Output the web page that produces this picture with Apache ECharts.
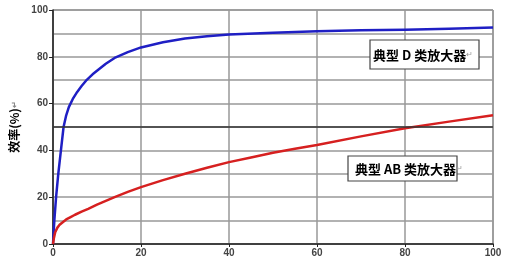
<!DOCTYPE html>
<html><head><meta charset="utf-8">
<script src="https://cdn.jsdelivr.net/npm/echarts@6/dist/echarts.min.js"></script>
<style>html,body{margin:0;padding:0;background:#fff}#c{width:508px;height:261px}</style>
</head><body><div id="c"></div>
<script>
// Output power (% of max) vs efficiency (%)
const classD = [[0,0],[0.3,10],[0.7,20],[1.2,30],[1.8,40],[2.4,50],[3,55],[3.6,58.5],[4.5,62],[5.5,65],[6.5,67.5],[7.5,69.8],[9,72.5],[10,74],[12,77],[14,79.5],[17,82],[20,84],[25,86.2],[30,87.8],[35,88.8],[40,89.5],[50,90.3],[60,90.9],[70,91.3],[80,91.6],[90,92],[100,92.5]];
const classAB = [[0,0],[0.2,2.5],[0.5,5],[1,7],[1.5,8.2],[2,9],[3,10.5],[4,11.5],[5,12.5],[6.5,13.8],[8,15],[10,16.8],[12,18.4],[14,20],[17,22.3],[20,24.3],[25,27.3],[30,30],[35,32.6],[40,35],[45,37],[50,39],[55,40.7],[60,42.3],[70,46],[80,49.5],[90,52.3],[100,55]];
const xTicks = [0,20,40,60,80,100];
const yTicks = [0,20,40,60,80,100];
const yName = '效率(%)';
const labelD = '典型 D 类放大器';
const labelAB = '典型 AB 类放大器';

const chart = echarts.init(document.getElementById('c'));
const tickFont = {fontFamily:'Liberation Sans, Arial', fontSize:10, fontWeight:'bold', color:'#444'};
chart.setOption({
  animation:false,
  grid:{left:49,right:15,top:10,bottom:17,show:true,borderColor:'#666',borderWidth:1},
  xAxis:{type:'value',min:xTicks[0],max:xTicks[xTicks.length-1],interval:20,
    axisLine:{show:true,lineStyle:{color:'#222',width:1.5}},
    axisTick:{show:true,length:3,lineStyle:{color:'#222'}},
    axisLabel:{...tickFont,margin:4},
    splitLine:{show:true,lineStyle:{color:'#999',width:1.5}}},
  yAxis:{type:'value',min:yTicks[0],max:yTicks[yTicks.length-1],interval:20,
    name:yName+'{p|↵}',nameLocation:'middle',nameRotate:90,nameGap:33,
    nameTextStyle:{fontFamily:'Noto Sans CJK SC',fontSize:12,fontWeight:'bold',color:'#000',
      rich:{p:{fontSize:8,color:'#888'}}},
    axisLine:{show:true,lineStyle:{color:'#222',width:1.5}},
    axisTick:{show:true,length:4,lineStyle:{color:'#222'}},
    axisLabel:{...tickFont,margin:5},
    splitLine:{show:true,lineStyle:{color:'#999',width:1.5}},
    minorTick:{show:false,splitNumber:2},
    minorSplitLine:{show:true,lineStyle:{color:'#999',width:1.5}}},
  series:[
    {type:'line',data:classD,showSymbol:false,smooth:false,
      lineStyle:{color:'#1f1fc4',width:2.5,join:'round'},
      markLine:{silent:true,symbol:'none',label:{show:false},lineStyle:{color:'#333',width:1.5,type:'solid'},data:[{yAxis:50}]}},
    {type:'line',data:classAB,showSymbol:false,smooth:false,
      lineStyle:{color:'#d62020',width:2.5,join:'round'}}
  ],
  graphic:[
    {type:'rect',shape:{x:370,y:40,width:109,height:29},style:{fill:'#fff',stroke:'#444',lineWidth:1.2},z:100},
    {type:'text',x:373,y:55,z:101,style:{text:labelD+'{p|↵}',verticalAlign:'middle',
      font:'bold 13px "Noto Sans CJK SC"',fill:'#000',rich:{p:{fontSize:8,fill:'#999'}}}},
    {type:'rect',shape:{x:348,y:156,width:109,height:25},style:{fill:'#fff',stroke:'#444',lineWidth:1.2},z:100},
    {type:'text',x:355,y:169,z:101,style:{text:labelAB+'{p|↵}',verticalAlign:'middle',
      font:'bold 13px "Noto Sans CJK SC"',fill:'#000',rich:{p:{fontSize:8,fill:'#999'}}}}
  ]
});
</script></body></html>
